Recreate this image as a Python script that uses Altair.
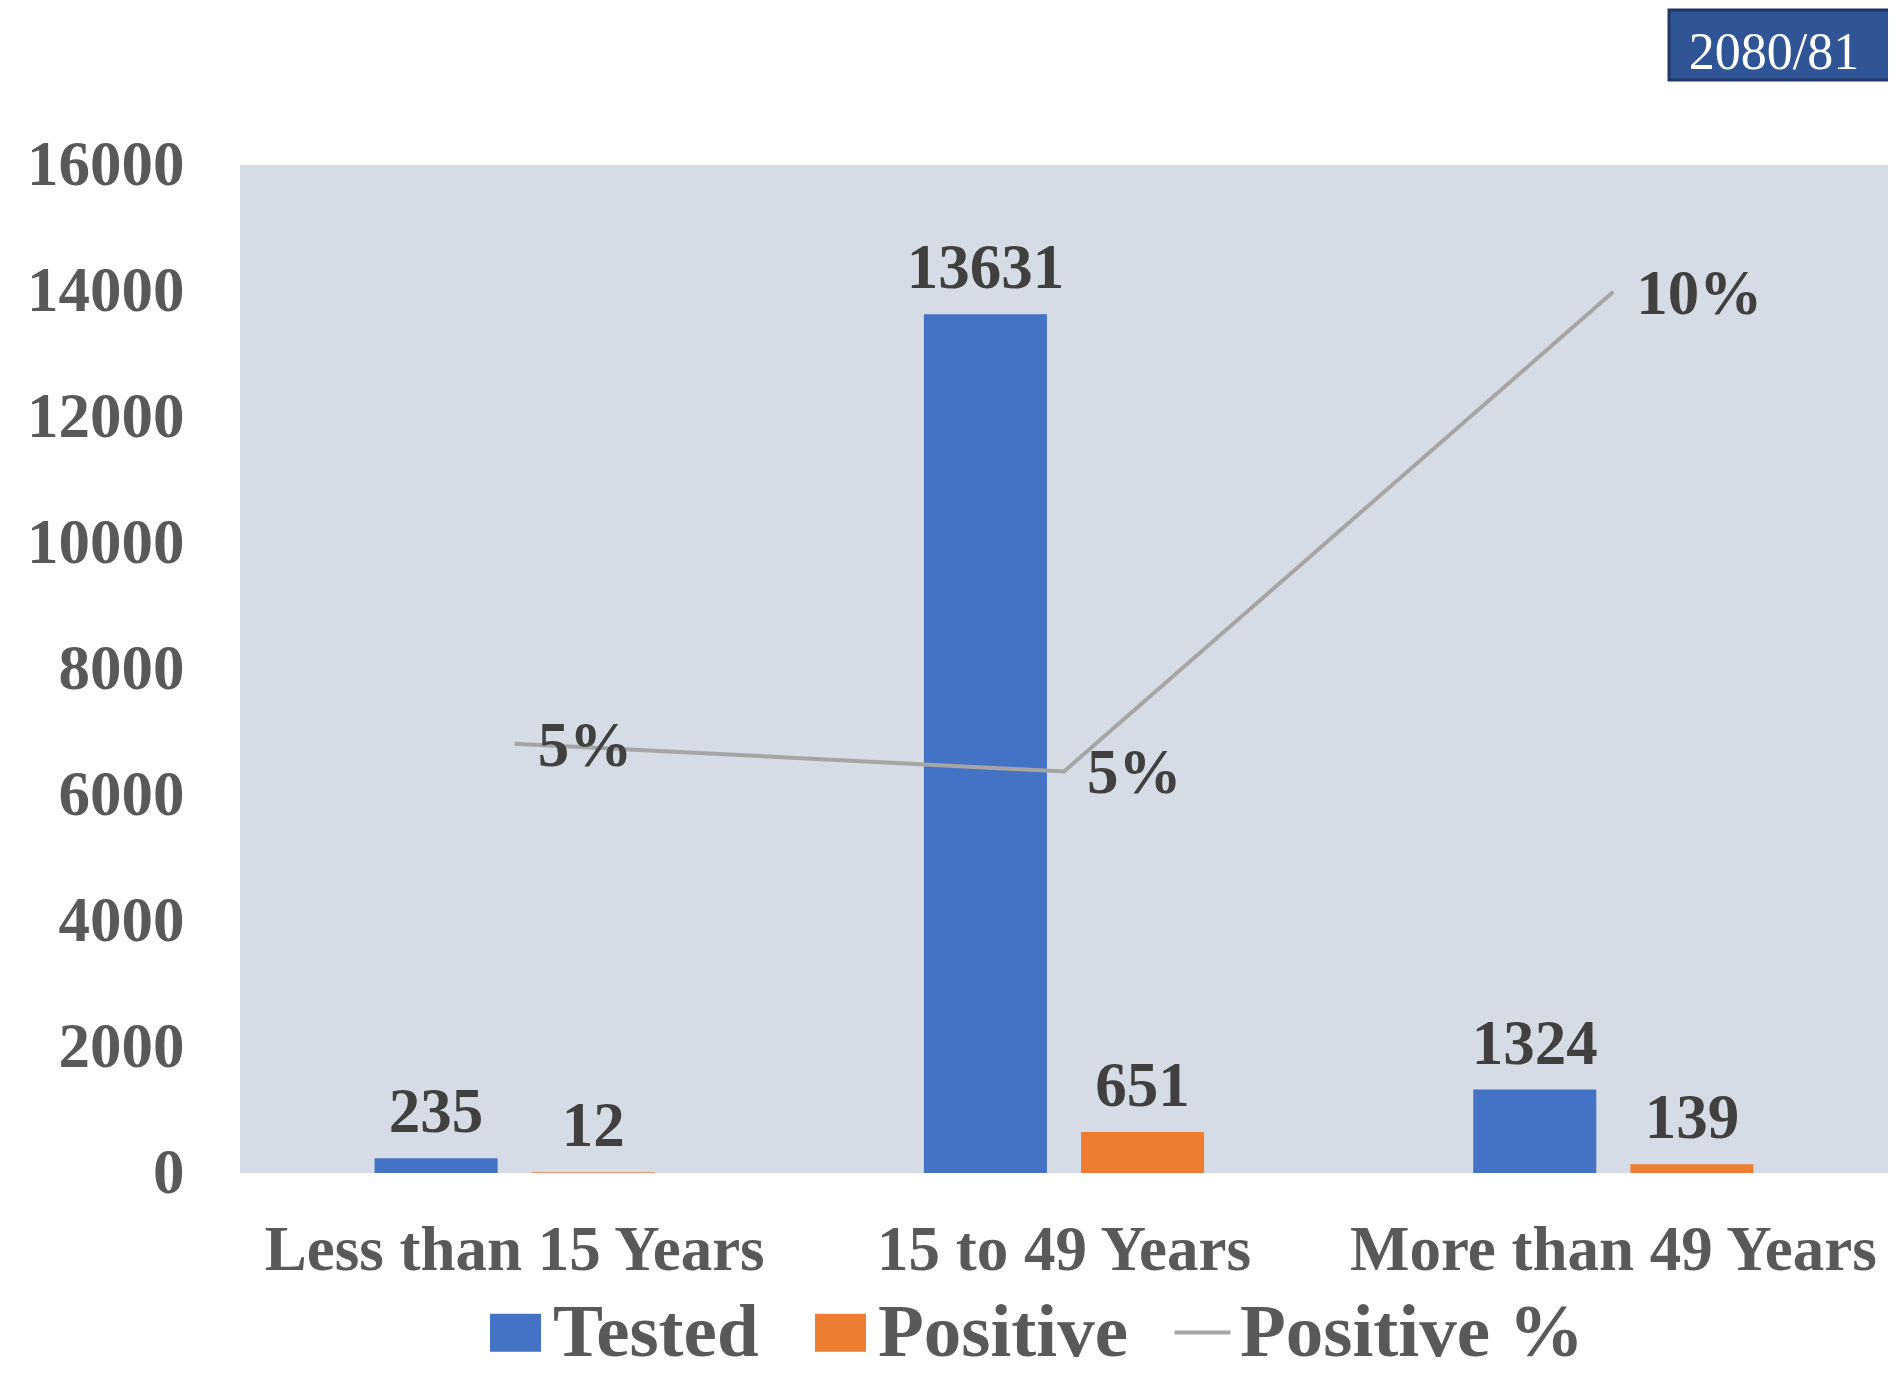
import altair as alt
import pandas as pd

categories = ["Less than 15 Years", "15 to 49 Years", "More than 49 Years"]
tested = [235, 13631, 1324]
positive = [12, 651, 139]
positive_pct = [0.0511, 0.0478, 0.1049]
series_names = ["Tested", "Positive"]
line_name = "Positive %"
year_label = ["2080/81"]
y_ticks = [0, 2000, 4000, 6000, 8000, 10000, 12000, 14000, 16000]

FONT = "Liberation Serif"
AXIS_COLOR = "#595959"
LABEL_COLOR = "#404040"

bars_df = pd.DataFrame({
    "category": categories * 2,
    "series": [series_names[0]] * 3 + [series_names[1]] * 3,
    "value": tested + positive,
})
line_df = pd.DataFrame({
    "category": categories,
    "pct": positive_pct,
    "series": [line_name] * 3,
})
year_df = pd.DataFrame({"label": year_label})

x_scale = alt.Scale(domain=categories, paddingInner=0.49, paddingOuter=0.245)
x_axis = alt.Axis(title=None, labelAngle=0, labelFont=FONT, labelFontWeight="bold",
                  labelFontSize=63, labelColor=AXIS_COLOR, labelPadding=46,
                  labelLimit=0, labelOverlap=False,
                  ticks=False, tickSize=0, domain=False, grid=False)
x_enc = alt.X("category:N", sort=categories, scale=x_scale, axis=x_axis)
xoff = alt.XOffset("series:N", sort=series_names,
                   scale=alt.Scale(domain=series_names, paddingInner=0.217, paddingOuter=0))

count_scale = alt.Scale(domain=[0, 16000], nice=False, zero=True)
count_axis = alt.Axis(title=None, values=y_ticks, format="d", labelFont=FONT,
                      labelFontWeight="bold", labelFontSize=63, labelColor=AXIS_COLOR,
                      labelPadding=56, ticks=False, tickSize=0, domain=False,
                      grid=False)
pct_scale = alt.Scale(domain=[0, 0.12], nice=False, zero=True)

bars = alt.Chart(bars_df).mark_bar().encode(
    x=x_enc,
    xOffset=xoff,
    y=alt.Y("value:Q", scale=count_scale, axis=count_axis),
    color=alt.Color("series:N", sort=series_names,
                    scale=alt.Scale(domain=series_names, range=["#4472C4", "#ED7D31"]),
                    legend=alt.Legend(title=None, orient="none", direction="horizontal",
                                      legendX=238, legendY=1130,
                                      symbolType="M-1,-0.745H1V0.745H-1Z", symbolSize=2601,
                                      symbolStrokeWidth=0, symbolOpacity=1,
                                      labelFont=FONT, labelFontWeight="bold",
                                      labelFontSize=75, labelColor=AXIS_COLOR,
                                      labelOffset=0, columnPadding=44, padding=0,
                                      labelLimit=0)),
)

bar_text = alt.Chart(bars_df).mark_text(
    baseline="alphabetic", dy=-26, font=FONT, fontWeight="bold", fontSize=63,
    color=LABEL_COLOR,
).encode(
    x=x_enc,
    xOffset=xoff,
    y=alt.Y("value:Q", scale=count_scale, axis=count_axis),
    text=alt.Text("value:Q", format="d"),
)

line = alt.Chart(line_df).mark_line(strokeWidth=4).encode(
    x=x_enc,
    y=alt.Y("pct:Q", scale=pct_scale, axis=None),
    stroke=alt.Stroke("series:N",
                      scale=alt.Scale(domain=[line_name], range=["#A5A5A5"]),
                      legend=alt.Legend(title=None, orient="none", direction="horizontal",
                                        legendX=925, legendY=1130,
                                        symbolType="stroke", symbolSize=3136,
                                        symbolStrokeWidth=4,
                                        labelFont=FONT, labelFontWeight="bold",
                                        labelFontSize=75, labelColor=AXIS_COLOR,
                                        labelOffset=0, padding=0, labelLimit=0)),
)

line_text = alt.Chart(line_df).mark_text(
    align="left", baseline="middle", dx=23, dy=3, font=FONT, fontWeight="bold",
    fontSize=63, color=LABEL_COLOR,
).encode(
    x=x_enc,
    y=alt.Y("pct:Q", scale=pct_scale, axis=None),
    text=alt.Text("pct:Q", format=".0%"),
)

year_box = alt.Chart(year_df).mark_rect(
    fill="#2F5597", stroke="#1F3864", strokeWidth=3,
).encode(
    x=alt.value(1429), x2=alt.value(1680),
    y=alt.value(-155), y2=alt.value(-85),
)
year_text = alt.Chart(year_df).mark_text(
    font=FONT, fontSize=52, color="white", align="center", baseline="middle",
).encode(
    x=alt.value(1534), y=alt.value(-112), text="label:N",
)

counts = alt.layer(bars, bar_text)
pcts = alt.layer(line, line_text)

chart = alt.layer(counts, pcts, year_box, year_text).resolve_scale(
    y="independent"
).properties(
    width=1648, height=1008,
    autosize=alt.AutoSizeParams(type="none"),
    padding={"left": 232, "top": 157, "right": 0, "bottom": 200},
    background="white",
).configure_view(fill="#D6DCE5", stroke=None)

chart.save("out.html", embed_options={"renderer": "svg", "actions": False})
